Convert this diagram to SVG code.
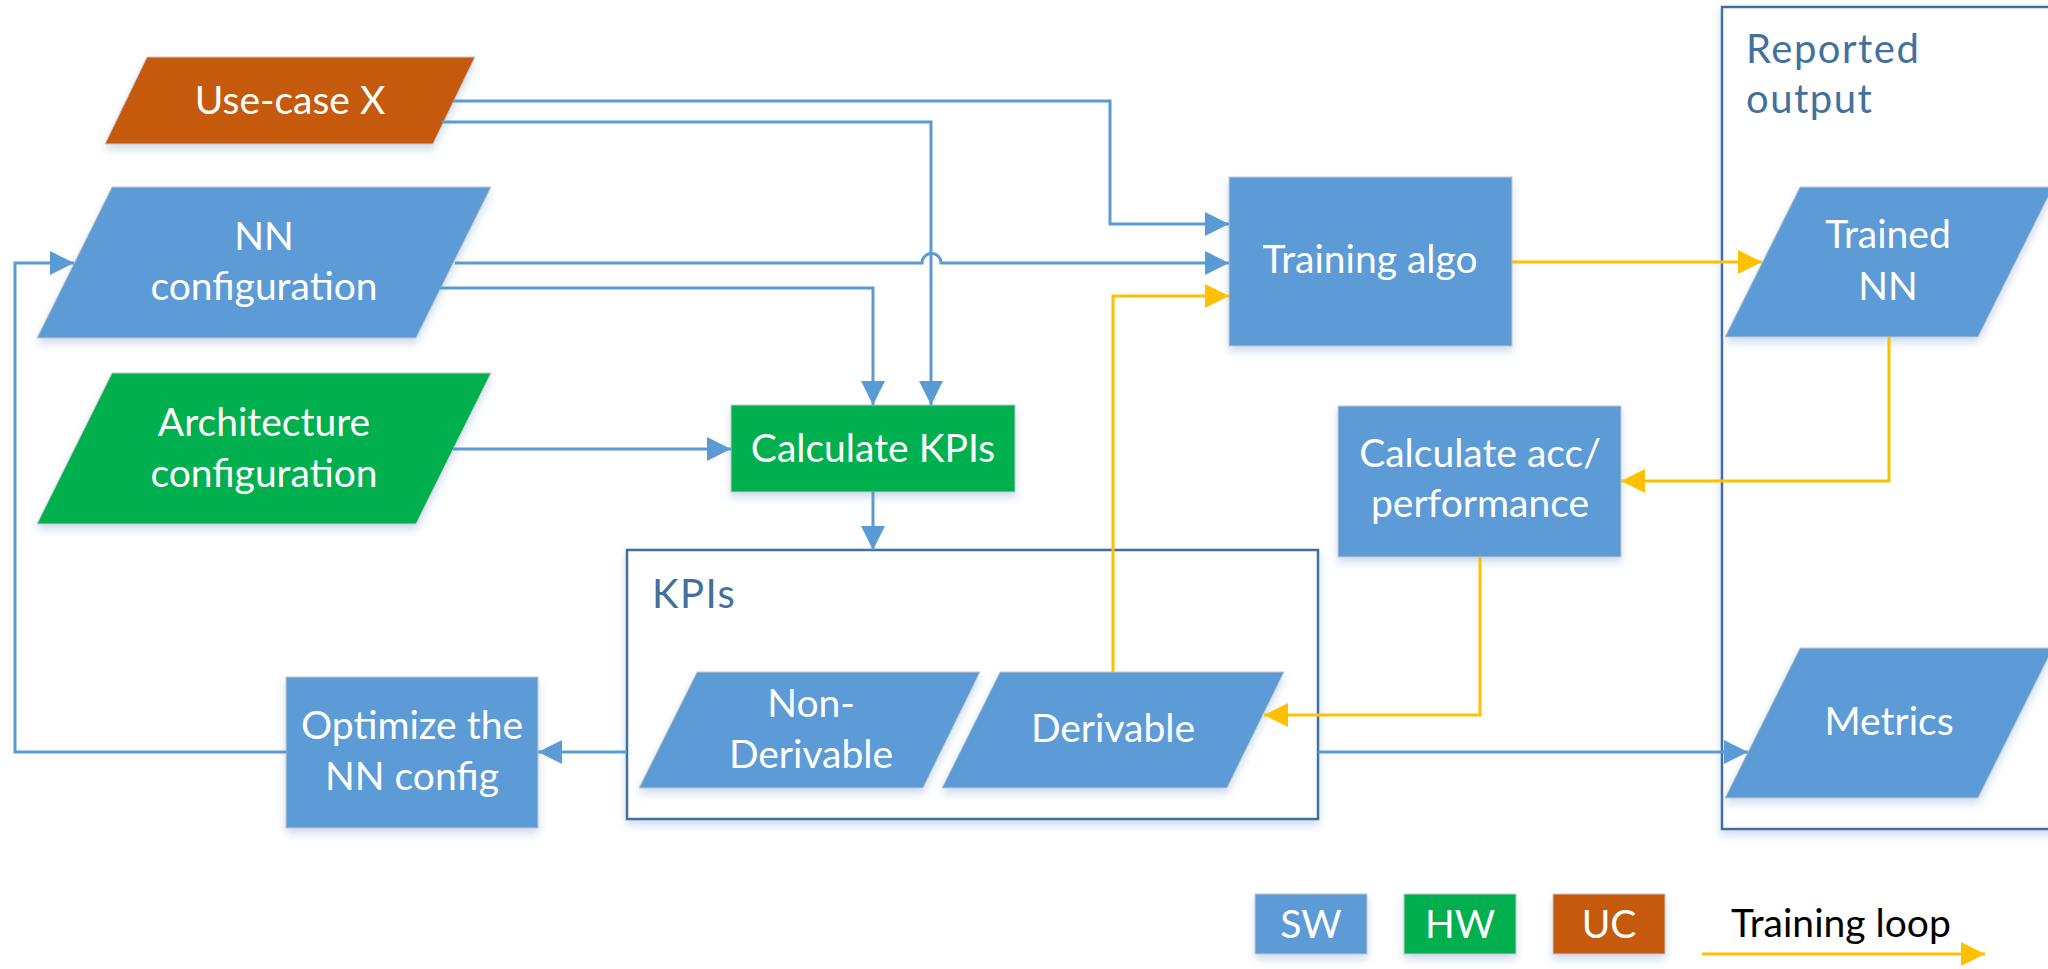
<svg xmlns="http://www.w3.org/2000/svg" width="2048" height="969" viewBox="0 0 2048 969">
  <defs>
    <filter id="shadow" x="-10%" y="-10%" width="120%" height="130%">
      <feDropShadow dx="0" dy="5" stdDeviation="4" flood-color="#8FB2DA" flood-opacity="0.45"/>
    </filter>
    <marker id="arrow-blue" markerUnits="userSpaceOnUse" markerWidth="24" markerHeight="24" refX="24" refY="12" orient="auto">
      <path d="M0,0 L24,12 L0,24 Z" fill="#5B9BD5"/>
    </marker>
    <marker id="arrow-gold" markerUnits="userSpaceOnUse" markerWidth="24" markerHeight="24" refX="24" refY="12" orient="auto">
      <path d="M0,0 L24,12 L0,24 Z" fill="#FFC000"/>
    </marker>
  </defs>
  <style>
    .sw { fill: #5B9BD5; stroke: #C9C9C9; stroke-width: 1; filter: url(#shadow); }
    .hw { fill: #00B050; stroke: #C9C9C9; stroke-width: 1; filter: url(#shadow); }
    .uc { fill: #C55A11; stroke: #C9C9C9; stroke-width: 1; filter: url(#shadow); }
    .frame { fill: #FFFFFF; stroke: #41719C; stroke-width: 2.5; filter: url(#shadow); }
    .lbl { font-family: Lato, "Open Sans", sans-serif; font-size: 39px; fill: #FFFFFF; text-anchor: middle; }
    .frame-lbl { font-family: Lato, "Open Sans", sans-serif; font-size: 40px; letter-spacing: 1.5px; fill: #41719C; }
    .legend-lbl { font-family: Lato, "Open Sans", sans-serif; font-size: 39px; fill: #000000; }
    .blue { fill: none; stroke: #5B9BD5; stroke-width: 3; marker-end: url(#arrow-blue); }
    .gold { fill: none; stroke: #FFC000; stroke-width: 3; marker-end: url(#arrow-gold); }
  </style>

  <rect width="2048" height="969" fill="#FFFFFF"/>

  <!-- group frames -->
  <g id="kpis">
    <rect class="frame" x="627" y="550" width="691" height="269"/>
    <text class="frame-lbl" x="652" y="608">KPIs</text>
  </g>
  <g id="reported-output">
    <rect class="frame" x="1722" y="7" width="360" height="822"/>
    <text class="frame-lbl" x="1746" y="63">Reported</text>
    <text class="frame-lbl" x="1746" y="113">output</text>
  </g>

  <!-- inputs -->
  <g id="use-case-x">
    <polygon class="uc" points="147,57 475,57 433,144 105,144"/>
    <text class="lbl" x="290" y="114">Use-case X</text>
  </g>
  <g id="nn-configuration">
    <polygon class="sw" points="112,187 491,187 416,338 37,338"/>
    <text class="lbl" x="264" y="250">NN</text>
    <text class="lbl" x="264" y="300">configuration</text>
  </g>
  <g id="architecture-configuration">
    <polygon class="hw" points="112,373 491,373 416,524 37,524"/>
    <text class="lbl" x="264" y="436">Architecture</text>
    <text class="lbl" x="264" y="487">configuration</text>
  </g>

  <!-- processes -->
  <g id="calculate-kpis">
    <rect class="hw" x="731" y="405" width="284" height="87"/>
    <text class="lbl" x="873" y="462">Calculate KPIs</text>
  </g>
  <g id="training-algo">
    <rect class="sw" x="1229" y="177" width="283" height="169"/>
    <text class="lbl" x="1370" y="273">Training algo</text>
  </g>
  <g id="calculate-acc">
    <rect class="sw" x="1338" y="406" width="283" height="151"/>
    <text class="lbl" x="1480" y="467">Calculate acc/</text>
    <text class="lbl" x="1480" y="517">performance</text>
  </g>
  <g id="optimize">
    <rect class="sw" x="286" y="677" width="252" height="151"/>
    <text class="lbl" x="412" y="739">Optimize the</text>
    <text class="lbl" x="412" y="790">NN config</text>
  </g>

  <!-- KPI kinds -->
  <g id="non-derivable">
    <polygon class="sw" points="697,672 980,672 923,788 639,788"/>
    <text class="lbl" x="811" y="717">Non-</text>
    <text class="lbl" x="811" y="768">Derivable</text>
  </g>
  <g id="derivable">
    <polygon class="sw" points="1000,672 1284,672 1227,788 942,788"/>
    <text class="lbl" x="1113" y="742">Derivable</text>
  </g>

  <!-- outputs -->
  <g id="trained-nn">
    <polygon class="sw" points="1800,187 2053,187 1978,337 1725,337"/>
    <text class="lbl" x="1888" y="248">Trained</text>
    <text class="lbl" x="1888" y="300">NN</text>
  </g>
  <g id="metrics">
    <polygon class="sw" points="1800,648 2053,648 1978,798 1725,798"/>
    <text class="lbl" x="1889" y="735">Metrics</text>
  </g>

  <!-- legend -->
  <g id="legend-sw">
    <rect class="sw" x="1255" y="894" width="112" height="60"/>
    <text class="lbl" x="1311" y="938">SW</text>
  </g>
  <g id="legend-hw">
    <rect class="hw" x="1404" y="894" width="112" height="60"/>
    <text class="lbl" x="1460" y="938">HW</text>
  </g>
  <g id="legend-uc">
    <rect class="uc" x="1553" y="894" width="112" height="60"/>
    <text class="lbl" x="1609" y="938">UC</text>
  </g>
  <g id="legend-training-loop">
    <text class="legend-lbl" x="1731" y="937">Training loop</text>
    <path class="gold" d="M1702,954 H1985"/>
  </g>

  <!-- connectors -->
  <g id="connectors">
    <path class="blue" d="M453,101 H1110 V224 H1229"/>
    <path class="blue" d="M442,122 H931 V405"/>
    <path class="blue" d="M455,263 H922 A9.5,9.5 0 0 1 941,263 H1229"/>
    <path class="blue" d="M440,288 H873 V405"/>
    <path class="blue" d="M453,449 H731"/>
    <path class="blue" d="M873,492 V550"/>
    <path class="blue" d="M627,752 H538"/>
    <path class="blue" d="M286,752 H15 V263 H74"/>
    <path class="blue" d="M1318,752 H1748"/>
    <path class="gold" d="M1113,672 V296 H1229"/>
    <path class="gold" d="M1512,262 H1762"/>
    <path class="gold" d="M1889,337 V481 H1621"/>
    <path class="gold" d="M1480,557 V715 H1264"/>
  </g>
</svg>
